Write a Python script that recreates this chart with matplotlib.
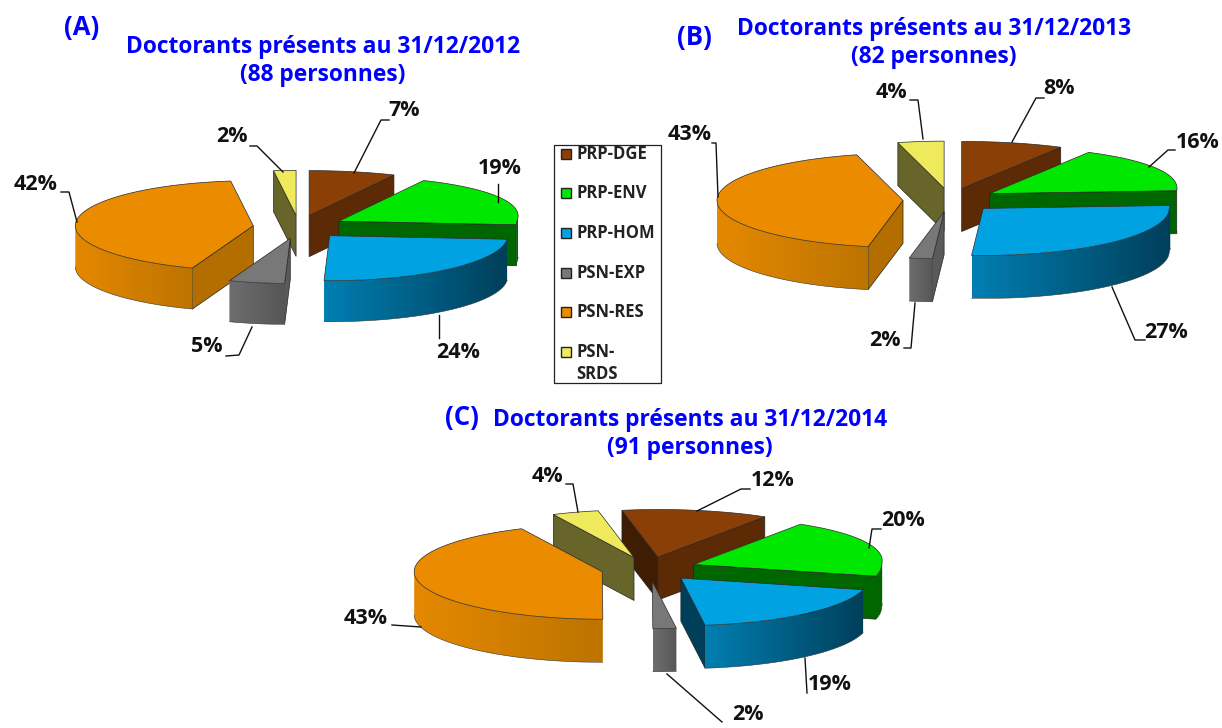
import numpy as np
import matplotlib
matplotlib.use("Agg")
import matplotlib.pyplot as plt
from matplotlib.colors import to_rgb
from matplotlib.patches import Polygon, Rectangle

# ---------- data ----------
categories = ["PRP-DGE", "PRP-ENV", "PRP-HOM", "PSN-EXP", "PSN-RES", "PSN-SRDS"]
values_2012 = [7, 19, 24, 5, 42, 2]
values_2013 = [8, 16, 27, 2, 43, 4]
values_2014 = [12, 20, 19, 2, 43, 4]
title_2012 = "Doctorants présents au 31/12/2012\n(88 personnes)"
title_2013 = "Doctorants présents au 31/12/2013\n(82 personnes)"
title_2014 = "Doctorants présents au 31/12/2014\n(91 personnes)"

# ---------- style ----------
TOP = ["#8A3F06", "#00E800", "#00A2E2", "#787878", "#EB8B00", "#EEEA5C"]
RIM_L = ["#5C2A04", "#006600", "#007FB2", "#6E6E6E", "#E58800", "#68652A"]
RIM_R = ["#5C2A04", "#006600", "#003F5A", "#565656", "#BC7400", "#68652A"]
CUT = ["#5C2A04", "#006600", "#003F5A", "#6A6A6A", "#B46E00", "#68652A"]
CUT_LEFT = ["#3F1D03", "#006600", "#004F70", "#5A5A5A", "#B46E00", "#68652A"]
FONT = "Open Sans"
BLUE = "#0000FF"

fig = plt.figure(figsize=(12.22, 7.28), dpi=100)
ax = fig.add_axes([0, 0, 1, 1])
ax.axis("off")


def slice_geometry(a0, a1, c, R, E, k, q):
    mid = np.radians((a0 + a1) / 2)
    apex_x = c[0] + E * np.sin(mid)
    apex_y = c[1] - k * E * np.cos(mid)
    th = np.radians(np.linspace(a0, a1, max(int(a1 - a0) + 2, 4)))
    stretch = 1 + q * np.where(np.sin(th) > 0, np.clip(np.cos(th), 0, 1), 0)
    xs = apex_x + R * np.sin(th) * stretch
    ys = apex_y - k * R * np.cos(th)
    return (apex_x, apex_y), xs, ys


def draw_pie(values, c, R, E, k, q, depth, start):
    vals = np.asarray(values, float)
    edges = start + np.concatenate([[0], np.cumsum(vals)]) / vals.sum() * 360
    geoms = []
    for i in range(len(vals)):
        apex, xs, ys = slice_geometry(edges[i], edges[i + 1], c, R, E, k, q)
        geoms.append((apex[1], i, apex, xs, ys))
    for n, (_, i, apex, xs, ys) in enumerate(sorted(geoms, key=lambda g: g[0])):
        z = 3 + n
        top_pts = np.column_stack([np.r_[apex[0], xs], np.r_[apex[1], ys]])
        # flat cut faces, kept only when they look to the viewer
        if xs[0] < apex[0] - 3:
            f = [(apex[0], apex[1]), (xs[0], ys[0]), (xs[0], ys[0] + depth), (apex[0], apex[1] + depth)]
            ax.add_patch(Polygon(f, fc=CUT_LEFT[i], ec="#222222", lw=0.5, zorder=z))
        if xs[-1] > apex[0] + 3:
            f = [(apex[0], apex[1]), (xs[-1], ys[-1]), (xs[-1], ys[-1] + depth), (apex[0], apex[1] + depth)]
            ax.add_patch(Polygon(f, fc=CUT[i], ec="#222222", lw=0.5, zorder=z))
        # rounded rim, shaded from left to right
        vis = np.where(np.diff(xs) < 0)[0]
        if len(vis):
            idx = np.r_[vis, vis[-1] + 1]
            lx, ly = xs[idx], ys[idx]
            poly = Polygon(np.column_stack([np.r_[lx, lx[::-1]], np.r_[ly, ly[::-1] + depth]]),
                           fc="none", ec="none", transform=ax.transData)
            ax.add_patch(poly)
            cl, cr = np.array(to_rgb(RIM_L[i])), np.array(to_rgb(RIM_R[i]))
            grad = cl + (cr - cl) * np.linspace(0, 1, 256)[:, None]
            im = ax.imshow(grad[None, :, :], extent=(lx.min(), lx.max(), ly.max() + depth, ly.min()),
                           aspect="auto", zorder=z, interpolation="bilinear")
            im.set_clip_path(poly)
            ax.plot(lx, ly + depth, color="#333333", lw=0.4, zorder=z + 0.2)
        ax.add_patch(Polygon(top_pts, fc=TOP[i], ec="#2A2A2A", lw=0.5, zorder=z + 0.5))


def labels(items):
    for text, (x, y), line in items:
        ax.text(x, y, text, ha="center", va="center", fontsize=15.5, weight="bold",
                family=FONT, color="#111111", zorder=30)
        lx, ly = zip(*line)
        ax.plot(lx, ly, color="#111111", lw=1.0, zorder=29)


def heading(letter, lpos, title, tpos):
    ax.text(*lpos, letter, ha="center", va="center", fontsize=18.5, weight="bold",
            family=FONT, color=BLUE, zorder=30)
    first, second = title.split("\n")
    ax.text(*tpos, first, ha="center", va="center", fontsize=16.4, weight="bold",
            family=FONT, color=BLUE, zorder=30)
    ax.text(tpos[0], tpos[1] + 28, second, ha="center", va="center", fontsize=16.4,
            weight="bold", family=FONT, color=BLUE, zorder=30)


# ---------- panel A ----------
draw_pie(values_2012, (299, 227), 178, 46, 0.253, 0.12, 41, 0)
heading("(A)", (82, 27), title_2012, (323, 47))
labels([
    (f"{values_2012[0]}%", (404, 111), [(354, 173), (381, 120), (389, 120)]),
    (f"{values_2012[1]}%", (500, 169), [(498, 202), (498, 184)]),
    (f"{values_2012[2]}%", (458, 353), [(439, 315), (439, 338)]),
    (f"{values_2012[3]}%", (207, 347), [(252, 327), (239, 355), (226, 356)]),
    (f"{values_2012[4]}%", (36, 184), [(77, 222), (69, 192), (61, 192)]),
    (f"{values_2012[5]}%", (232, 137), [(283, 172), (257, 146), (250, 146)]),
])

# ---------- panel B ----------
draw_pie(values_2013, (950, 200), 186, 47, 0.253, 0.12, 43, 0)
heading("(B)", (694, 37), title_2013, (934, 29))
labels([
    (f"{values_2013[0]}%", (1059, 89), [(1012, 142), (1036, 98), (1044, 98)]),
    (f"{values_2013[1]}%", (1198, 142), [(1149, 167), (1168, 150), (1175, 150)]),
    (f"{values_2013[2]}%", (1166, 332), [(1112, 287), (1135, 340), (1145, 340)]),
    (f"{values_2013[3]}%", (885, 340), [(915, 303), (911, 348), (904, 348)]),
    (f"{values_2013[4]}%", (690, 134), [(718, 197), (716, 143), (712, 143)]),
    (f"{values_2013[5]}%", (891, 92), [(923, 139), (918, 100), (910, 100)]),
])

# ---------- panel C ----------
draw_pie(values_2014, (649, 569), 188, 48, 0.253, 0.08, 43, -11)
heading("(C)", (462, 418), title_2014, (690, 420))
labels([
    (f"{values_2014[0]}%", (773, 481), [(697, 511), (741, 489), (750, 489)]),
    (f"{values_2014[1]}%", (903, 521), [(869, 548), (872, 529), (881, 529)]),
    (f"{values_2014[2]}%", (830, 684), [(805, 658), (807, 693)]),
    (f"{values_2014[3]}%", (748, 714), [(667, 674), (722, 722)]),
    (f"{values_2014[5]}%", (547, 477), [(578, 512), (573, 484), (566, 484)]),
    (f"{values_2014[4]}%", (366, 618), [(421, 627), (392, 625)]),
])

# ---------- legend ----------
ax.add_patch(Rectangle((554, 145), 106.5, 238, fc="white", ec="#222222", lw=0.9, zorder=10))
legend_y = [154, 193, 233, 273, 312, 352]
for name, col, y in zip(categories, TOP, legend_y):
    ax.add_patch(Rectangle((561, y - 5), 10, 10, fc=col, ec="#222222", lw=1.0, zorder=11))
    if name == "PSN-SRDS":
        ax.text(576, y, "PSN-", ha="left", va="center", fontsize=12, weight="bold",
                family=FONT, color="#222222", zorder=11)
        ax.text(576, y + 22, "SRDS", ha="left", va="center", fontsize=12, weight="bold",
                family=FONT, color="#222222", zorder=11)
    else:
        ax.text(576, y, name, ha="left", va="center", fontsize=12, weight="bold",
                family=FONT, color="#222222", zorder=11)

ax.set_xlim(0, 1222)
ax.set_ylim(728, 0)
fig.savefig("out.png", dpi=100)
